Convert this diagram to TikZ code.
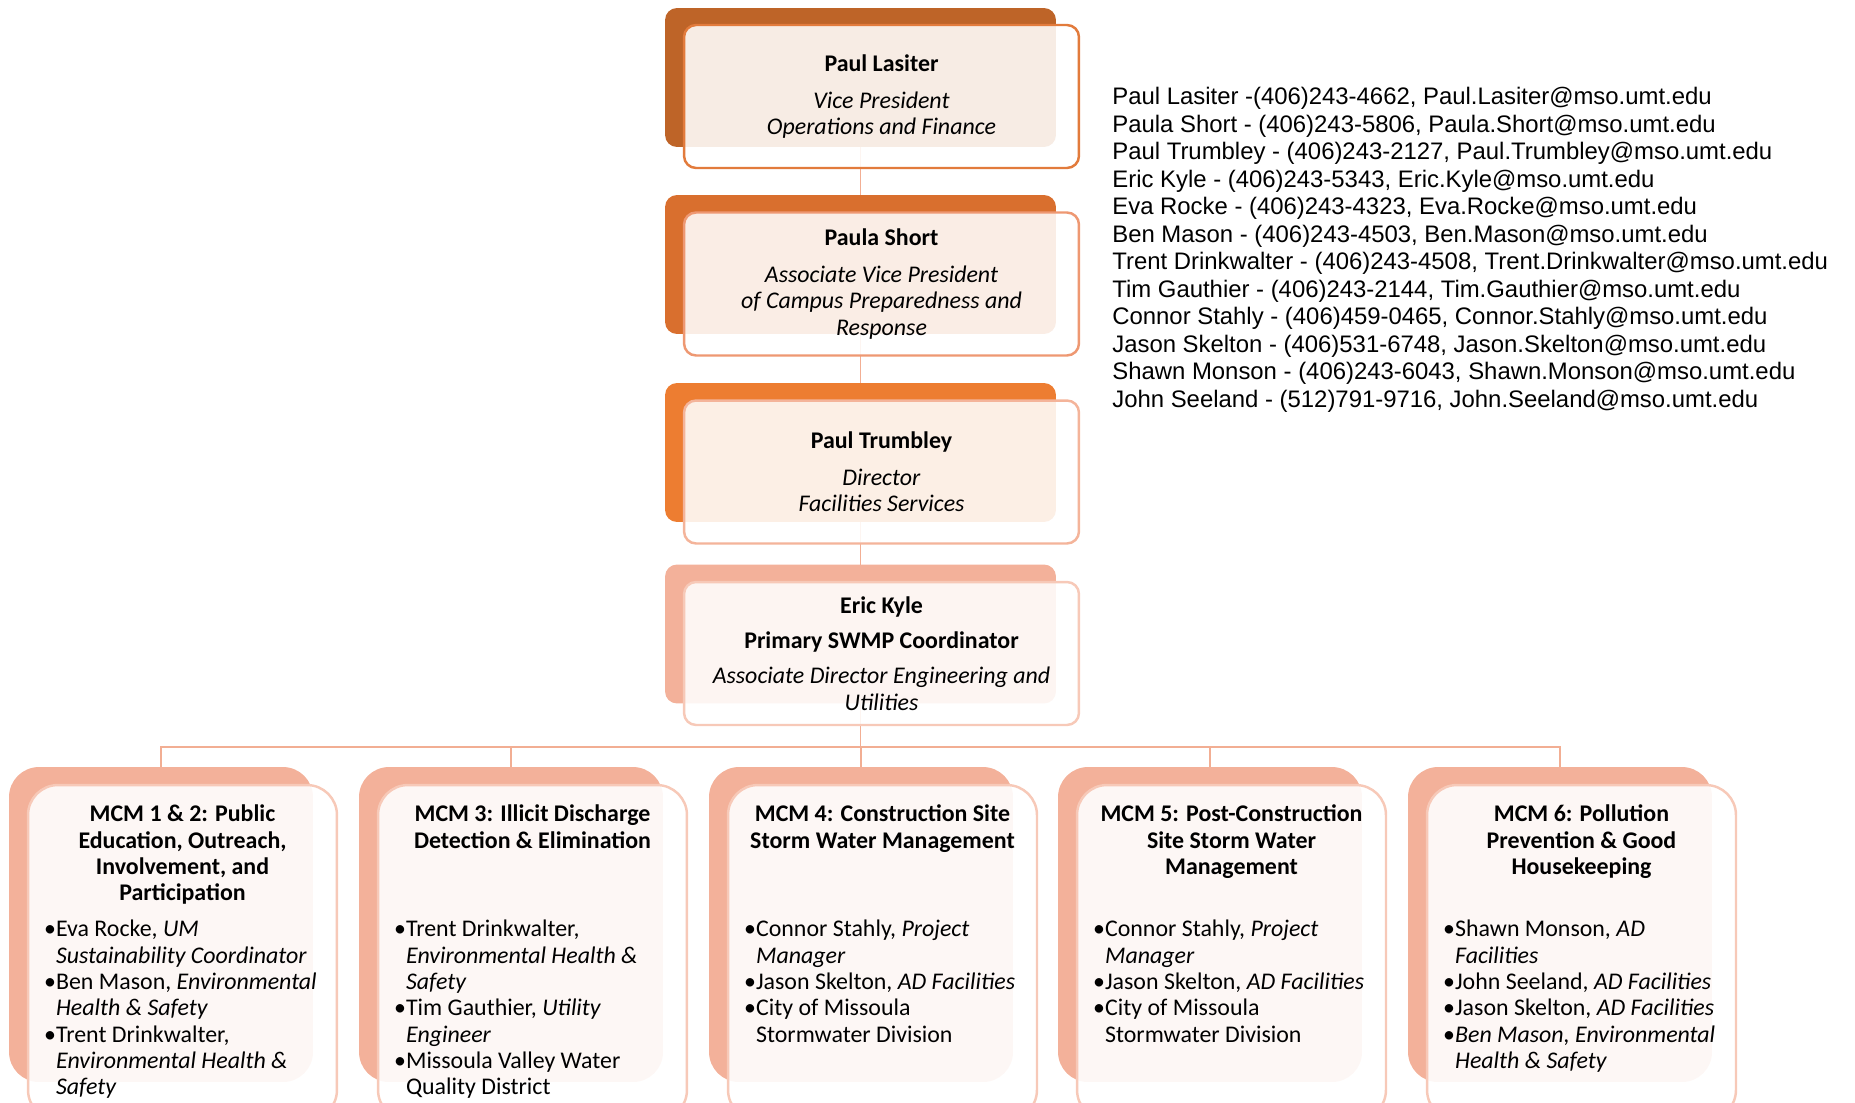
\documentclass[tikz,border=0pt]{standalone}
\usepackage{fontspec}
\setmainfont{Carlito}
\newfontfamily\arialfont{Liberation Sans}
\usetikzlibrary{backgrounds}

\definecolor{boxA}{HTML}{BE6428}
\definecolor{lineA}{HTML}{E27B3C}
\definecolor{boxB}{HTML}{D96F2E}
\definecolor{lineB}{HTML}{EE9872}
\definecolor{boxC}{HTML}{ED7D31}
\definecolor{lineC}{HTML}{F4B49A}
\definecolor{boxD}{HTML}{F3B19A}
\definecolor{lineD}{HTML}{F7C9B8}
\definecolor{linkcol}{HTML}{F2AE93}

\newcommand\boxfont{\fontsize{13.6}{15}\selectfont}
\newcommand\bul{\makebox[6.8pt][l]{•}}
\newcommand\ind{\hspace*{6.8pt}}

\tikzset{
  backbox/.style={rounded corners=0.24cm, minimum width=7.82cm, minimum height=2.78cm, inner sep=0pt},
  frontbox/.style={draw, line width=1.4pt, rounded corners=0.24cm, fill=white, fill opacity=0.88, text opacity=1,
    minimum width=7.9cm, minimum height=2.86cm, inner sep=0pt, align=center, font=\boxfont},
  mback/.style={fill=boxD, rounded corners=0.6cm, minimum width=6.08cm, minimum height=6.3cm, inner sep=0pt},
  mfront/.style={draw=lineD, line width=1.4pt, rounded corners=0.6cm, fill=white, fill opacity=0.9,
    minimum width=6.18cm, minimum height=6.7cm, inner sep=0pt},
  mtitle/.style={anchor=north, yshift=-0.42cm, inner sep=0pt, align=center, font=\boxfont\bfseries},
  mlist/.style={anchor=north west, xshift=0.34cm, yshift=-2.72cm, inner sep=0pt, align=left, font=\boxfont},
  link/.style={draw=linkcol, line width=1.1pt}
}

\begin{document}
\begin{tikzpicture}[x=0.02cm, y=-0.02cm]
\useasboundingbox (0,0) rectangle (1855,1102);
\clip (0,0) rectangle (1855,1102);

\node[backbox, fill=boxA] (vpb) at (860.5,77.5) {};
\node[frontbox, draw=lineA] (vp) at (881.5,96.5)
  {\textbf{Paul Lasiter}\\[6pt]\textit{Vice President}\\\textit{Operations and Finance}};

\node[backbox, fill=boxB] (avpb) at (860.5,264.5) {};
\node[frontbox, draw=lineB] (avp) at (881.5,284)
  {\textbf{Paula Short}\\[6pt]\textit{Associate Vice President}\\\textit{of Campus Preparedness and}\\\textit{Response}};

\node[backbox, fill=boxC] (dirb) at (860.5,452.5) {};
\node[frontbox, draw=lineC] (dir) at (881.5,472)
  {\textbf{Paul Trumbley}\\[6pt]\textit{Director}\\\textit{Facilities Services}};

\node[backbox, fill=boxD] (coordb) at (860.5,634) {};
\node[frontbox, draw=lineD] (coord) at (881.5,653.5)
  {\textbf{Eric Kyle}\\[5pt]\textbf{Primary SWMP Coordinator}\\[5pt]\textit{Associate Director Engineering and}\\\textit{Utilities}};

\coordinate (bar) at (860.5,747);

\node[mback] (mcm1b) at (161,924.5) {};
\node[mfront] (mcm1) at (182.5,952.5) {};
\node[mtitle] (mcm1t) at (mcm1.north) {MCM 1 \& 2: Public\\Education, Outreach,\\Involvement, and\\Participation};
\node[mlist] (mcm1l) at (mcm1.north west)
  {\bul Eva Rocke, \textit{UM}\\\ind\textit{Sustainability Coordinator}\\\bul Ben Mason, \textit{Environmental}\\\ind\textit{Health \& Safety}\\\bul Trent Drinkwalter,\\\ind\textit{Environmental Health \&}\\\ind\textit{Safety}};

\node[mback] (mcm3b) at (511,924.5) {};
\node[mfront] (mcm3) at (532.5,952.5) {};
\node[mtitle] (mcm3t) at (mcm3.north) {MCM 3: Illicit Discharge\\Detection \& Elimination};
\node[mlist] (mcm3l) at (mcm3.north west)
  {\bul Trent Drinkwalter,\\\ind\textit{Environmental Health \&}\\\ind\textit{Safety}\\\bul Tim Gauthier, \textit{Utility}\\\ind\textit{Engineer}\\\bul Missoula Valley Water\\\ind Quality District};

\node[mback] (mcm4b) at (861,924.5) {};
\node[mfront] (mcm4) at (882.5,952.5) {};
\node[mtitle] (mcm4t) at (mcm4.north) {MCM 4: Construction Site\\Storm Water Management};
\node[mlist] (mcm4l) at (mcm4.north west)
  {\bul Connor Stahly, \textit{Project}\\\ind\textit{Manager}\\\bul Jason Skelton, \textit{AD Facilities}\\\bul City of Missoula\\\ind Stormwater Division};

\node[mback] (mcm5b) at (1210,924.5) {};
\node[mfront] (mcm5) at (1231.5,952.5) {};
\node[mtitle] (mcm5t) at (mcm5.north) {MCM 5: Post-Construction\\Site Storm Water\\Management};
\node[mlist] (mcm5l) at (mcm5.north west)
  {\bul Connor Stahly, \textit{Project}\\\ind\textit{Manager}\\\bul Jason Skelton, \textit{AD Facilities}\\\bul City of Missoula\\\ind Stormwater Division};

\node[mback] (mcm6b) at (1560,924.5) {};
\node[mfront] (mcm6) at (1581.5,952.5) {};
\node[mtitle] (mcm6t) at (mcm6.north) {MCM 6: Pollution\\Prevention \& Good\\Housekeeping};
\node[mlist] (mcm6l) at (mcm6.north west)
  {\bul Shawn Monson, \textit{AD}\\\ind\textit{Facilities}\\\bul John Seeland, \textit{AD Facilities}\\\bul Jason Skelton, \textit{AD Facilities}\\\bul\textit{Ben Mason, Environmental}\\\ind\textit{Health \& Safety}};

\node[anchor=north west, inner sep=0pt, align=left, font=\arialfont\fontsize{13.6}{15.65}\selectfont] (contacts) at (1112,87)
  {Paul Lasiter -(406)243-4662, Paul.Lasiter@mso.umt.edu\\
   Paula Short - (406)243-5806, Paula.Short@mso.umt.edu\\
   Paul Trumbley - (406)243-2127, Paul.Trumbley@mso.umt.edu\\
   Eric Kyle - (406)243-5343, Eric.Kyle@mso.umt.edu\\
   Eva Rocke - (406)243-4323, Eva.Rocke@mso.umt.edu\\
   Ben Mason - (406)243-4503, Ben.Mason@mso.umt.edu\\
   Trent Drinkwalter - (406)243-4508, Trent.Drinkwalter@mso.umt.edu\\
   Tim Gauthier - (406)243-2144, Tim.Gauthier@mso.umt.edu\\
   Connor Stahly - (406)459-0465, Connor.Stahly@mso.umt.edu\\
   Jason Skelton - (406)531-6748, Jason.Skelton@mso.umt.edu\\
   Shawn Monson - (406)243-6043, Shawn.Monson@mso.umt.edu\\
   John Seeland - (512)791-9716, John.Seeland@mso.umt.edu};

\begin{pgfonlayer}{background}
\draw[link] (vpb.center) -- (avpb.center) -- (dirb.center) -- (coordb.center) -- (bar);
\draw[link] (mcm1b.north) |- (bar) -| (mcm6b.north);
\draw[link] (mcm3b.north) -- (mcm3b.north |- bar);
\draw[link] (mcm4b.north) -- (mcm4b.north |- bar);
\draw[link] (mcm5b.north) -- (mcm5b.north |- bar);
\end{pgfonlayer}
\end{tikzpicture}
\end{document}
